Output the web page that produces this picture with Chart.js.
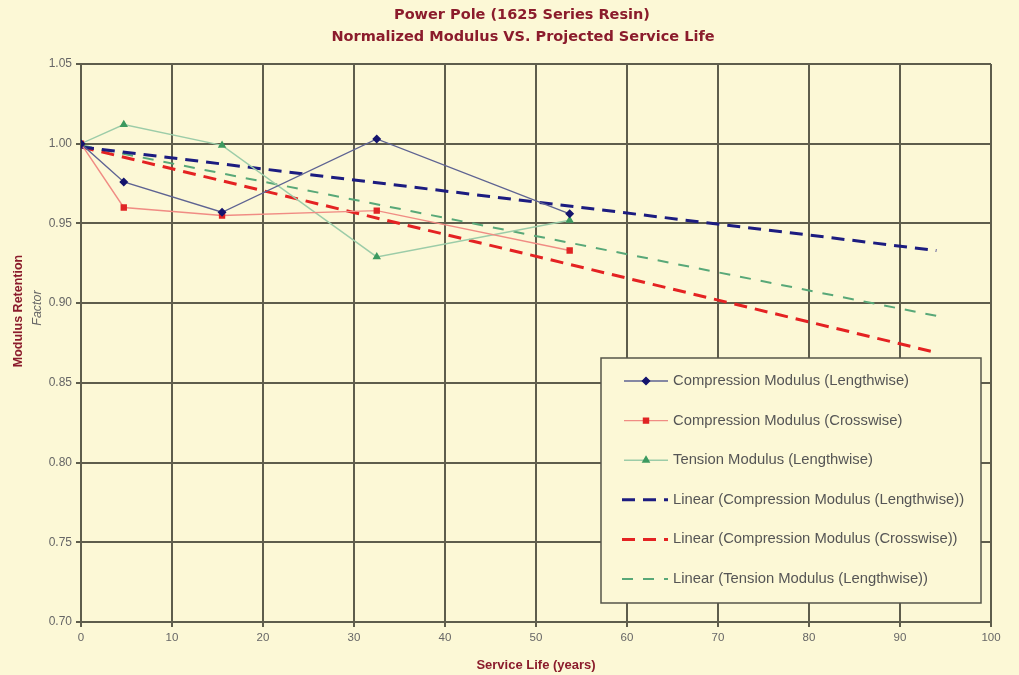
<!DOCTYPE html>
<html lang="en">
<head>
<meta charset="UTF-8">
<title>Power Pole - Normalized Modulus</title>
<script src="https://cdn.jsdelivr.net/npm/chart.js"></script>
<style>
  html, body { margin: 0; padding: 0; background: #fcf8d6; }
  #wrap { width: 1019px; height: 675px; }
</style>
</head>
<body>
<div id="wrap"><canvas id="myChart" width="1019" height="675"></canvas></div>

<script>
// data
const years = [0, 4.7, 15.5, 32.5, 53.7];
const compLength = [1.000, 0.976, 0.957, 1.003, 0.956];
const compCross = [1.000, 0.960, 0.955, 0.958, 0.933];
const tensionLength = [1.000, 1.012, 0.999, 0.929, 0.952];

// trend lines (start / end)
const trendYears = [0, 94];
const trendCompLength = [0.998, 0.933];
const trendCompCross = [0.998, 0.869];
const trendTension = [0.999, 0.892];

const titleLines = ['Power Pole (1625 Series Resin)', 'Normalized Modulus VS. Projected Service Life'];

const seriesNames = [
  'Compression Modulus (Lengthwise)',
  'Compression Modulus (Crosswise)',
  'Tension Modulus (Lengthwise)',
  'Linear (Compression Modulus (Lengthwise))',
  'Linear (Compression Modulus (Crosswise))',
  'Linear (Tension Modulus (Lengthwise))'
];

function pts(xs, ys) {
  return xs.map((x, i) => ({ x: x, y: ys[i] }));
}

const bgColor = '#fcf8d6';
const gridColor = '#5e5d4c';
const darkRed = '#8b1c2c';
const fonte = '"Liberation Sans", Arial, sans-serif';

// paint background
const fundo = {
  id: 'fundo',
  beforeDraw(chart) {
    const ctx = chart.ctx;
    ctx.save();
    ctx.fillStyle = bgColor;
    ctx.fillRect(0, 0, chart.width, chart.height);
    ctx.restore();
  }
};

// title, y axis title (two styles) + legend box inside plot
const extras = {
  id: 'extras',
  afterDraw(chart) {
    const ctx = chart.ctx;

    ctx.save();
    ctx.textAlign = 'center';
    ctx.textBaseline = 'middle';
    ctx.fillStyle = darkRed;
    ctx.font = 'bold 14.5px "DejaVu Sans", Verdana, sans-serif';
    ctx.fillText(titleLines[0], 522, 15);
    ctx.fillText(titleLines[1], 523, 37);
    ctx.restore();

    ctx.save();
    ctx.translate(19, 311);
    ctx.rotate(-Math.PI / 2);
    ctx.textAlign = 'center';
    ctx.textBaseline = 'middle';
    ctx.fillStyle = darkRed;
    ctx.font = 'bold 12.5px ' + fonte;
    ctx.fillText('Modulus Retention', 0, 0);
    ctx.fillStyle = '#666';
    ctx.font = 'italic 12.5px ' + fonte;
    ctx.fillText('Factor', 3, 19);
    ctx.restore();

    // legend
    const bx = 601, by = 358, bw = 380, bh = 245;
    ctx.save();
    ctx.fillStyle = bgColor;
    ctx.fillRect(bx, by, bw, bh);
    ctx.strokeStyle = '#55554a';
    ctx.lineWidth = 1.5;
    ctx.strokeRect(bx, by, bw, bh);
    ctx.font = '14.8px ' + fonte;
    ctx.textBaseline = 'middle';
    chart.data.datasets.forEach((ds, i) => {
      const y = by + 23 + i * 39.6;
      ctx.save();
      ctx.strokeStyle = ds.borderColor;
      ctx.lineWidth = ds.borderWidth;
      ctx.setLineDash(ds.borderDash || []);
      ctx.beginPath();
      ctx.moveTo(ds.borderDash ? 622 : 624, y);
      ctx.lineTo(668, y);
      ctx.stroke();
      ctx.restore();
      if (!ds.borderDash) {
        ctx.save();
        ctx.fillStyle = ds.pointBackgroundColor;
        ctx.strokeStyle = ds.pointBorderColor;
        Chart.helpers.drawPoint(ctx, {
          pointStyle: ds.pointStyle,
          radius: ds.pointRadius,
          borderWidth: 1
        }, 646, y);
        ctx.restore();
      }
      ctx.fillStyle = '#555';
      ctx.fillText(ds.label, 673, y);
    });
    ctx.restore();
  }
};

const config = {
  type: 'scatter',
  data: {
    datasets: [
      {
        label: seriesNames[0],
        data: pts(years, compLength),
        showLine: true,
        borderColor: '#5e6392',
        borderWidth: 1.4,
        pointStyle: 'rectRot',
        pointRadius: 3.5,
        pointBackgroundColor: '#14146e',
        pointBorderColor: '#14146e'
      },
      {
        label: seriesNames[1],
        data: pts(years, compCross),
        showLine: true,
        borderColor: '#f08c84',
        borderWidth: 1.4,
        pointStyle: 'rect',
        pointRadius: 3.5,
        pointBackgroundColor: '#e02424',
        pointBorderColor: '#e02424'
      },
      {
        label: seriesNames[2],
        data: pts(years, tensionLength),
        showLine: true,
        borderColor: '#9ccca8',
        borderWidth: 1.4,
        pointStyle: 'triangle',
        pointRadius: 3.5,
        pointBackgroundColor: '#3c9a60',
        pointBorderColor: '#3c9a60'
      },
      {
        label: seriesNames[3],
        data: pts(trendYears, trendCompLength),
        showLine: true,
        borderColor: '#1c1c80',
        borderWidth: 3,
        borderDash: [13, 8],
        pointRadius: 0
      },
      {
        label: seriesNames[4],
        data: pts(trendYears, trendCompCross),
        showLine: true,
        borderColor: '#e42222',
        borderWidth: 3,
        borderDash: [13, 8],
        pointRadius: 0
      },
      {
        label: seriesNames[5],
        data: pts(trendYears, trendTension),
        showLine: true,
        borderColor: '#58a878',
        borderWidth: 2,
        borderDash: [11, 10],
        pointRadius: 0
      }
    ]
  },
  options: {
    responsive: false,
    animation: false,
    layout: { padding: { left: 0, right: 28, top: 64, bottom: 0 } },
    plugins: {
      legend: { display: false },
      tooltip: { enabled: false },
      title: { display: false }
    },
    scales: {
      x: {
        type: 'linear',
        min: 0,
        max: 100,
        ticks: {
          stepSize: 10,
          color: '#666',
          font: { family: fonte, size: 11.5 },
          padding: 4
        },
        grid: { color: gridColor, lineWidth: 2, tickLength: 5, tickColor: gridColor },
        border: { color: gridColor, width: 2 },
        title: {
          display: true,
          text: 'Service Life (years)',
          color: darkRed,
          font: { family: fonte, size: 13, weight: 'bold' },
          padding: { top: 8, bottom: 2 }
        },
        afterFit(scale) { scale.height = 53; }
      },
      y: {
        min: 0.70,
        max: 1.05,
        ticks: {
          stepSize: 0.05,
          color: '#666',
          font: { family: fonte, size: 12 },
          padding: 4,
          callback: v => v.toFixed(2)
        },
        grid: { color: gridColor, lineWidth: 2, tickLength: 5, tickColor: gridColor },
        border: { color: gridColor, width: 2 },
        afterFit(scale) { scale.width = 81; }
      }
    }
  },
  plugins: [fundo, extras]
};

const grafico = new Chart(document.getElementById('myChart'), config);
</script>
</body>
</html>
